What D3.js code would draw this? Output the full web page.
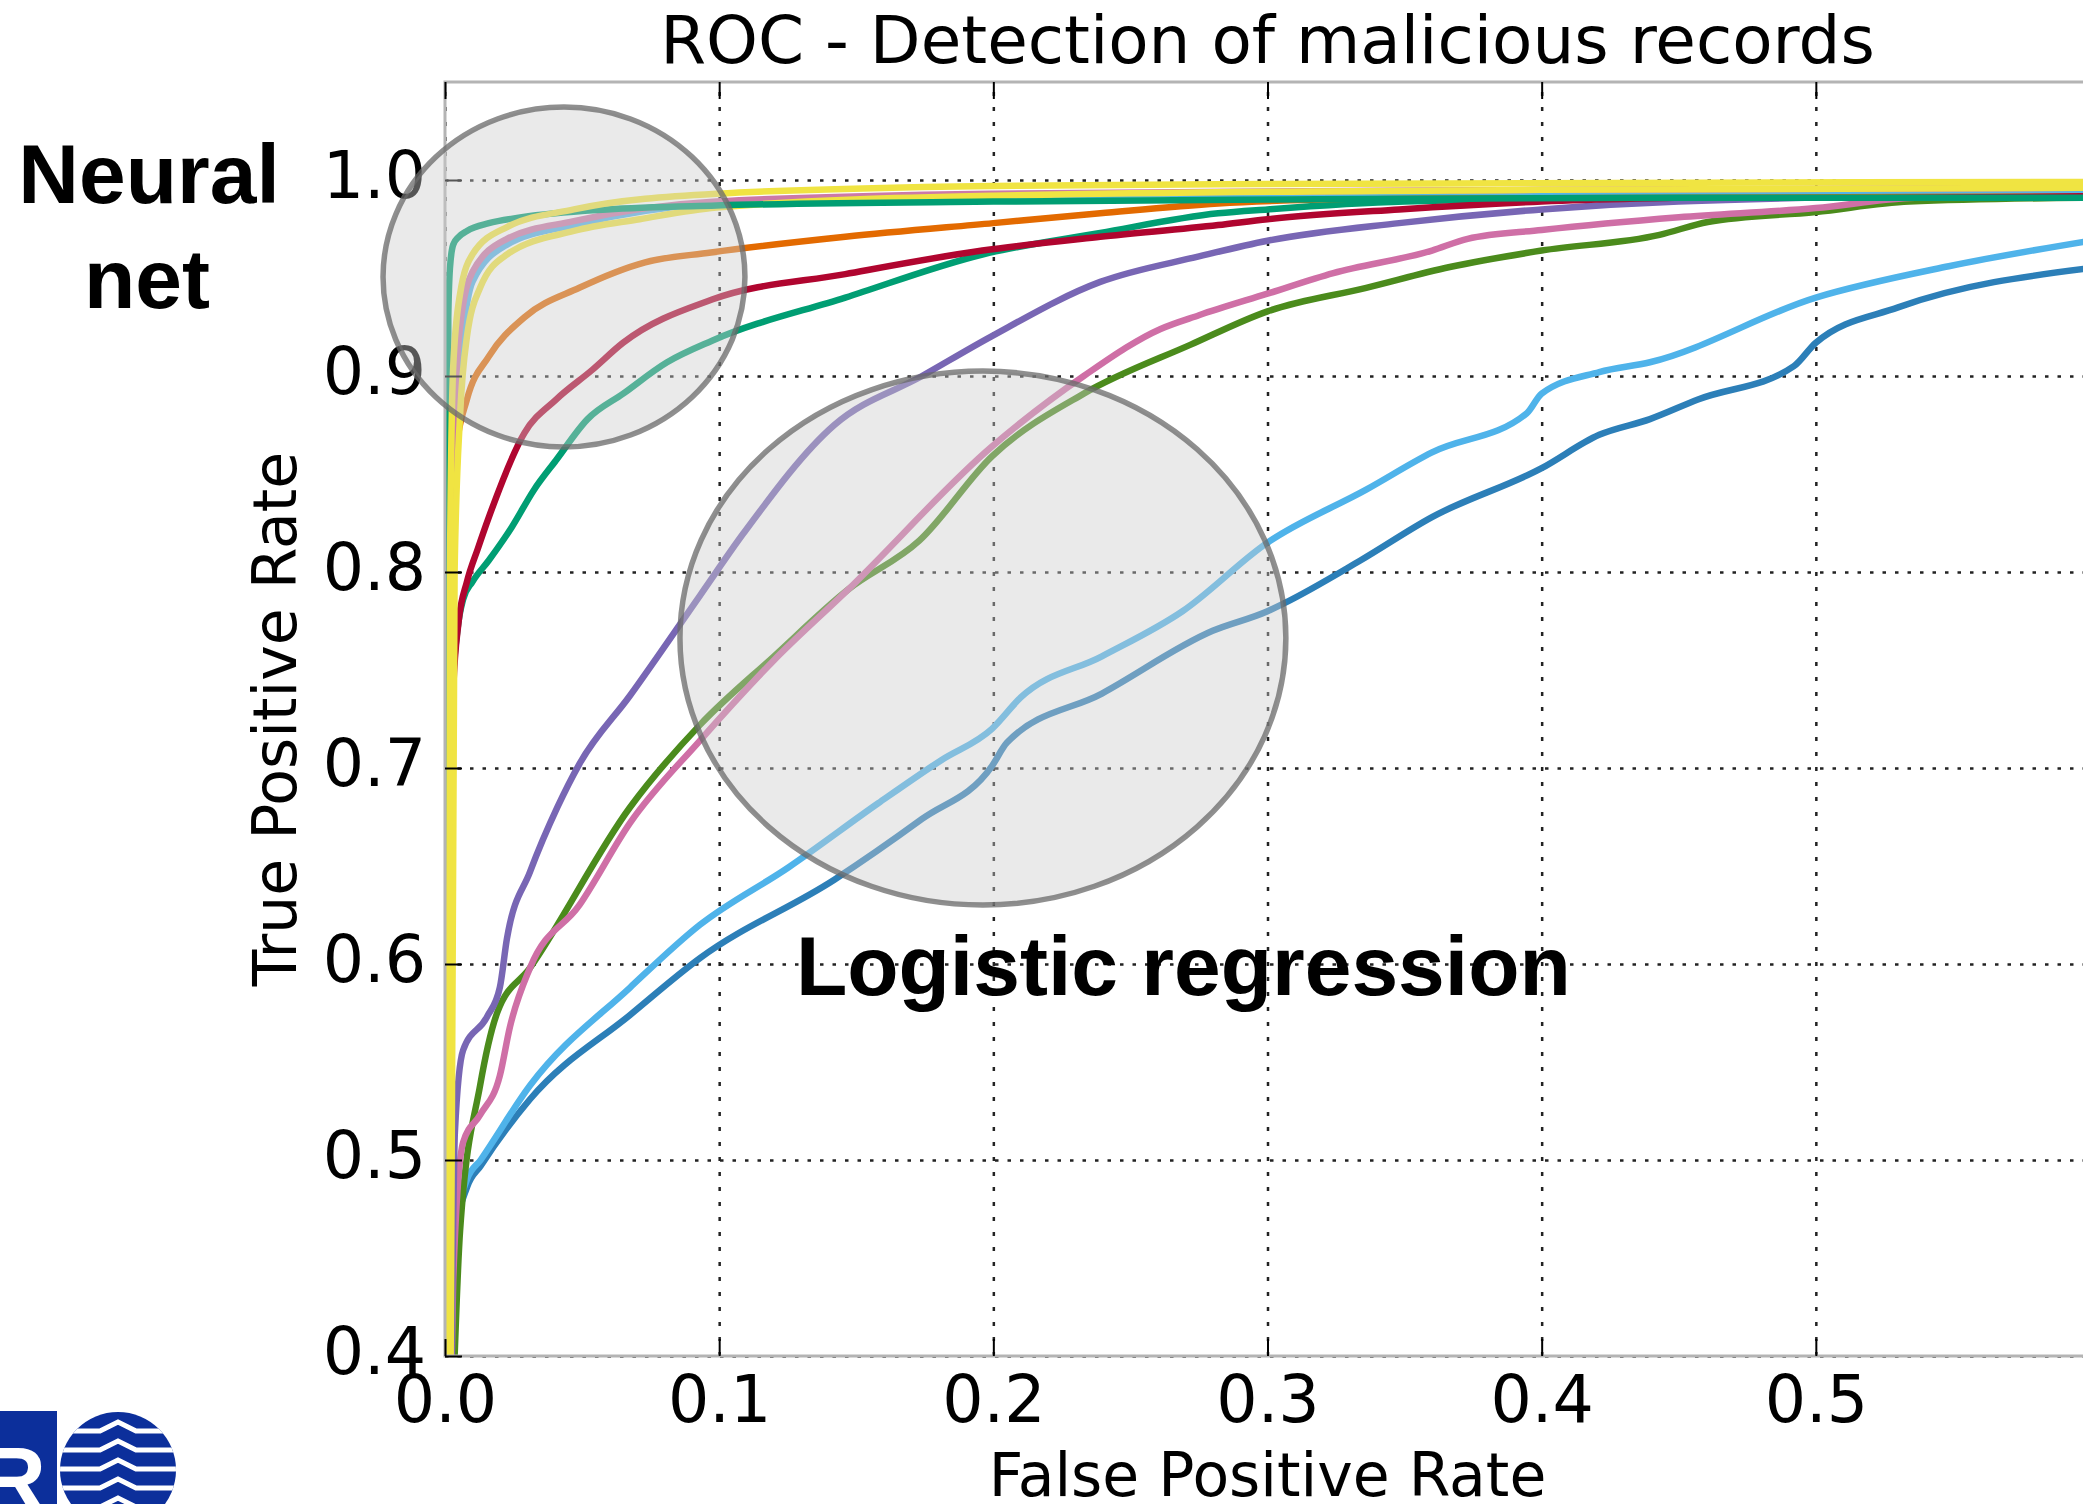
<!DOCTYPE html>
<html>
<head>
<meta charset="utf-8">
<script src="https://cdn.jsdelivr.net/npm/d3@7"></script>
<style>
  body { margin: 0; background: #fff; }
  svg { display: block; }
</style>
</head>
<body>
<div id="roc_chart"></div>
<script>
// ticks
const xTicks = [0.0, 0.1, 0.2, 0.3, 0.4, 0.5];
const yTicks = [0.4, 0.5, 0.6, 0.7, 0.8, 0.9, 1.0];

// ROC curves, [false positive rate, true positive rate]
const lrDarkBlue = [[0.0028,0.38],[0.0036,0.46],[0.008,0.486],[0.013,0.497],[0.031,0.531],[0.0675,0.574],[0.093,0.603],[0.142,0.643],[0.174,0.674],[0.1995,0.701],[0.205,0.713],[0.2396,0.738],[0.28,0.77],[0.30,0.78],[0.306,0.784],[0.334,0.806],[0.36,0.828],[0.40,0.853],[0.421,0.870],[0.4395,0.878],[0.457,0.888],[0.492,0.905],[0.50,0.917],[0.53,0.935],[0.6,0.955]];
const lrLightBlue = [[0.0025,0.38],[0.0036,0.464],[0.008,0.49],[0.013,0.50],[0.031,0.538],[0.0675,0.588],[0.093,0.620],[0.1255,0.6495],[0.158,0.682],[0.181,0.704],[0.1995,0.720],[0.21,0.736],[0.2396,0.757],[0.269,0.780],[0.30,0.815],[0.336,0.842],[0.36,0.861],[0.3946,0.881],[0.40,0.891],[0.421,0.902],[0.4395,0.907],[0.50,0.940],[0.5485,0.956],[0.6,0.969]];
const lrGreen = [[0.003,0.38],[0.0055,0.464],[0.0128,0.538],[0.019,0.575],[0.031,0.598],[0.0675,0.680],[0.093,0.722],[0.12,0.757],[0.147,0.791],[0.173,0.816],[0.1995,0.859],[0.233,0.891],[0.272,0.916],[0.30,0.933],[0.336,0.945],[0.3665,0.9556],[0.40,0.964],[0.443,0.972],[0.4606,0.9786],[0.50,0.9837],[0.534,0.989],[0.6,0.991]];
const lrPink = [[0.0022,0.38],[0.003,0.439],[0.0066,0.509],[0.0128,0.523],[0.020,0.543],[0.0237,0.568],[0.031,0.598],[0.049,0.630],[0.0675,0.672],[0.093,0.714],[0.12,0.755],[0.147,0.791],[0.1995,0.864],[0.233,0.900],[0.261,0.924],[0.275,0.931],[0.30,0.942],[0.324,0.9525],[0.36,0.964],[0.373,0.970],[0.40,0.9745],[0.45,0.981],[0.50,0.9857],[0.534,0.9908],[0.6,0.993]];
const lrPurple = [[0.0022,0.38],[0.0028,0.45],[0.0036,0.514],[0.0066,0.556],[0.0153,0.573],[0.020,0.588],[0.0226,0.613],[0.031,0.647],[0.041,0.680],[0.049,0.702],[0.0675,0.737],[0.093,0.788],[0.109,0.820],[0.142,0.875],[0.174,0.900],[0.199,0.920],[0.239,0.948],[0.275,0.961],[0.30,0.969],[0.348,0.978],[0.40,0.985],[0.45,0.989],[0.6,0.993]];
const midGreen = [[0.0012,0.38],[0.0018,0.60],[0.0026,0.736],[0.0045,0.77],[0.0066,0.786],[0.010,0.795],[0.016,0.806],[0.0244,0.823],[0.0325,0.842],[0.0405,0.857],[0.052,0.878],[0.065,0.891],[0.081,0.907],[0.0974,0.918],[0.146,0.940],[0.196,0.962],[0.239,0.973],[0.282,0.983],[0.30,0.985],[0.35,0.989],[0.45,0.991],[0.6,0.991]];
const midCrimson = [[0.0012,0.38],[0.0018,0.60],[0.0026,0.70],[0.003,0.74],[0.005,0.775],[0.008,0.795],[0.012,0.812],[0.016,0.828],[0.029,0.871],[0.0405,0.888],[0.0536,0.903],[0.065,0.917],[0.0974,0.939],[0.146,0.952],[0.196,0.964],[0.239,0.971],[0.282,0.977],[0.30,0.980],[0.348,0.985],[0.40,0.989],[0.5,0.992],[0.6,0.993]];
const midOrange = [[0.0012,0.38],[0.0018,0.70],[0.0025,0.78],[0.003,0.83],[0.004,0.862],[0.008,0.888],[0.016,0.910],[0.029,0.930],[0.049,0.945],[0.073,0.958],[0.097,0.963],[0.146,0.971],[0.20,0.978],[0.239,0.983],[0.282,0.988],[0.35,0.991],[0.45,0.993],[0.6,0.995]];
const nnBlue = [[0.0017,0.38],[0.003,0.80],[0.0045,0.89],[0.0066,0.922],[0.010,0.948],[0.0226,0.967],[0.047,0.977],[0.099,0.988],[0.2,0.992],[0.4,0.994],[0.6,0.995]];
const nnPink = [[0.0015,0.38],[0.0025,0.80],[0.004,0.895],[0.0055,0.925],[0.010,0.953],[0.0226,0.970],[0.047,0.979],[0.099,0.989],[0.2,0.993],[0.4,0.995],[0.6,0.996]];
const nnYellowLow = [[0.002,0.38],[0.0035,0.80],[0.0055,0.88],[0.008,0.92],[0.0128,0.945],[0.0226,0.962],[0.047,0.974],[0.071,0.980],[0.099,0.986],[0.2,0.992],[0.4,0.995],[0.6,0.996]];
const nnTeal = [[0.0008,0.38],[0.001,0.80],[0.0012,0.93],[0.0018,0.955],[0.003,0.967],[0.005,0.971],[0.008,0.974],[0.016,0.978],[0.028,0.981],[0.059,0.985],[0.099,0.987],[0.2,0.989],[0.3,0.990],[0.45,0.991],[0.6,0.991]];
const nnYellowTop = [[0.0012,0.38],[0.0018,0.80],[0.003,0.905],[0.0055,0.942],[0.010,0.962],[0.0226,0.976],[0.047,0.985],[0.099,0.993],[0.2,0.997],[0.3,0.998],[0.6,0.999]];

// draw order follows the picture: logistic regression lines underneath
let series = [
    {pts: lrDarkBlue, color: "#2c7fb8"},
    {pts: lrLightBlue, color: "#4fb3ea"},
    {pts: lrGreen, color: "#4b8b1c"},
    {pts: lrPink, color: "#cf6fa6"},
    {pts: lrPurple, color: "#7866b4"},
    {pts: midGreen, color: "#009e73"},
    {pts: midCrimson, color: "#b0052f"},
    {pts: midOrange, color: "#e36a00"},
    {pts: nnBlue, color: "#56b4e9"},
    {pts: nnPink, color: "#cc79a7"},
    {pts: nnYellowLow, color: "#f0e442"},
    {pts: nnTeal, color: "#009e73"},
    {pts: nnYellowTop, color: "#f0e442"}
];

// the two grey callouts, in data units
const callouts = [
    {cx: 0.0434, cy: 0.9505, rx: 0.066, ry: 0.0867},
    {cx: 0.1962, cy: 0.7663, rx: 0.1105, ry: 0.1362}
];

let W = 2083, H = 1504;
let plot = {left: 445, right: 2090, top: 82, bottom: 1356};

let svg = d3.select("#roc_chart")
    .append("svg")
    .attr("width", W)
    .attr("height", H);

let x = d3.scaleLinear()
    .domain([0, 0.6])
    .range([plot.left, plot.right]);

let y = d3.scaleLinear()
    .domain([0.4, 1.05])
    .range([plot.bottom, plot.top]);

svg.append("clipPath")
    .attr("id", "plotClip")
    .append("rect")
    .attr("x", plot.left)
    .attr("y", plot.top)
    .attr("width", plot.right - plot.left)
    .attr("height", plot.bottom - plot.top);

// dotted grid
svg.append("g")
    .attr("transform", "translate(0," + plot.bottom + ")")
    .call(d3.axisBottom(x).tickValues(xTicks).tickSize(-(plot.bottom - plot.top)).tickFormat(""))
    .call(g => g.select(".domain").remove())
    .selectAll("line")
    .attr("stroke", "#222")
    .attr("stroke-width", 2.5)
    .attr("stroke-dasharray", "4,11");

svg.append("g")
    .attr("transform", "translate(" + plot.left + ",0)")
    .call(d3.axisLeft(y).tickValues(yTicks).tickSize(-(plot.right - plot.left)).tickFormat(""))
    .call(g => g.select(".domain").remove())
    .selectAll("line")
    .attr("stroke", "#222")
    .attr("stroke-width", 2.5)
    .attr("stroke-dasharray", "3.5,9");

// curves
let line = d3.line()
    .x(d => x(d[0]))
    .y(d => y(d[1]))
    .curve(d3.curveMonotoneX);

svg.append("g")
    .attr("clip-path", "url(#plotClip)")
    .selectAll("path")
    .data(series)
    .enter()
    .append("path")
    .attr("d", d => line(d.pts))
    .attr("fill", "none")
    .attr("stroke", d => d.color)
    .attr("stroke-width", 6.5)
    .attr("stroke-linejoin", "round")
    .attr("stroke-linecap", "round");

// frame
svg.append("rect")
    .attr("x", plot.left)
    .attr("y", plot.top)
    .attr("width", plot.right - plot.left)
    .attr("height", plot.bottom - plot.top)
    .attr("fill", "none")
    .attr("stroke", "#b4b4b4")
    .attr("stroke-width", 3);

// axes with matplotlib style inward ticks
let fmt = d3.format(".1f");

svg.append("g")
    .attr("transform", "translate(0," + plot.bottom + ")")
    .call(d3.axisBottom(x).tickValues(xTicks).tickSizeInner(-17).tickSizeOuter(0).tickPadding(20).tickFormat(fmt))
    .call(g => g.select(".domain").remove())
    .call(g => g.selectAll("line").attr("stroke", "#000").attr("stroke-width", 2))
    .call(g => g.selectAll("text")
        .attr("font-family", "'DejaVu Sans', sans-serif")
        .attr("font-size", 65)
        .attr("fill", "#000"));

svg.append("g")
    .attr("transform", "translate(0," + plot.top + ")")
    .call(d3.axisTop(x).tickValues(xTicks).tickSizeInner(-17).tickSizeOuter(0).tickFormat(""))
    .call(g => g.select(".domain").remove())
    .selectAll("line").attr("stroke", "#000").attr("stroke-width", 2);

svg.append("g")
    .attr("transform", "translate(" + plot.left + ",0)")
    .call(d3.axisLeft(y).tickValues(yTicks).tickSizeInner(-17).tickSizeOuter(0).tickPadding(19).tickFormat(fmt))
    .call(g => g.select(".domain").remove())
    .call(g => g.selectAll("line").attr("stroke", "#000").attr("stroke-width", 2))
    .call(g => g.selectAll("text")
        .attr("font-family", "'DejaVu Sans', sans-serif")
        .attr("font-size", 65)
        .attr("dy", "0.27em")
        .attr("fill", "#000"));

// titles
svg.append("text")
    .attr("x", (plot.left + plot.right) / 2)
    .attr("y", 63)
    .attr("text-anchor", "middle")
    .attr("font-family", "'DejaVu Sans', sans-serif")
    .attr("font-size", 66)
    .text("ROC - Detection of malicious records");

svg.append("text")
    .attr("x", (plot.left + plot.right) / 2)
    .attr("y", 1496)
    .attr("text-anchor", "middle")
    .attr("font-family", "'DejaVu Sans', sans-serif")
    .attr("font-size", 60)
    .text("False Positive Rate");

svg.append("text")
    .attr("transform", "translate(296," + (plot.top + plot.bottom) / 2 + ") rotate(-90)")
    .attr("text-anchor", "middle")
    .attr("font-family", "'DejaVu Sans', sans-serif")
    .attr("font-size", 60)
    .text("True Positive Rate");

// grey callout ellipses over the curves
svg.append("g")
    .selectAll("ellipse")
    .data(callouts)
    .enter()
    .append("ellipse")
    .attr("cx", d => x(d.cx))
    .attr("cy", d => y(d.cy))
    .attr("rx", d => x(d.rx) - x(0))
    .attr("ry", d => y(0) - y(d.ry))
    .attr("fill", "rgb(205,205,205)")
    .attr("fill-opacity", 0.42)
    .attr("stroke", "rgb(105,105,105)")
    .attr("stroke-opacity", 0.75)
    .attr("stroke-width", 5.5);

// bold annotations
let bold = "'Liberation Sans', Arial, sans-serif";
svg.append("text")
    .attr("x", 149).attr("y", 203)
    .attr("text-anchor", "middle")
    .attr("font-family", bold).attr("font-weight", "bold").attr("font-size", 84)
    .text("Neural");
svg.append("text")
    .attr("x", 147).attr("y", 308)
    .attr("text-anchor", "middle")
    .attr("font-family", bold).attr("font-weight", "bold").attr("font-size", 84)
    .text("net");
svg.append("text")
    .attr("x", x(0.128)).attr("y", y(0.584))
    .attr("font-family", bold).attr("font-weight", "bold").attr("font-size", 84)
    .text("Logistic regression");

// partial logo, bottom left corner
let logo = svg.append("g");
logo.append("rect")
    .attr("x", 0).attr("y", 1411).attr("width", 57).attr("height", 93)
    .attr("fill", "#0c2f9b");
logo.append("text")
    .attr("x", -19).attr("y", 1511)
    .attr("font-family", bold).attr("font-weight", "bold").attr("font-size", 90)
    .attr("fill", "#fff")
    .text("R");
logo.append("clipPath").attr("id", "logoClip")
    .append("circle").attr("cx", 118).attr("cy", 1470).attr("r", 58);
logo.append("circle")
    .attr("cx", 118).attr("cy", 1470).attr("r", 58)
    .attr("fill", "#0c2f9b");
logo.append("g")
    .attr("clip-path", "url(#logoClip)")
    .selectAll("path")
    .data([1431, 1450, 1469, 1488, 1507])
    .enter()
    .append("path")
    .attr("d", d => "M55," + d + "L100," + d + "L118," + (d - 9) + "L136," + d + "L180," + d)
    .attr("fill", "none")
    .attr("stroke", "#fff")
    .attr("stroke-width", 5);
</script>
</body>
</html>
